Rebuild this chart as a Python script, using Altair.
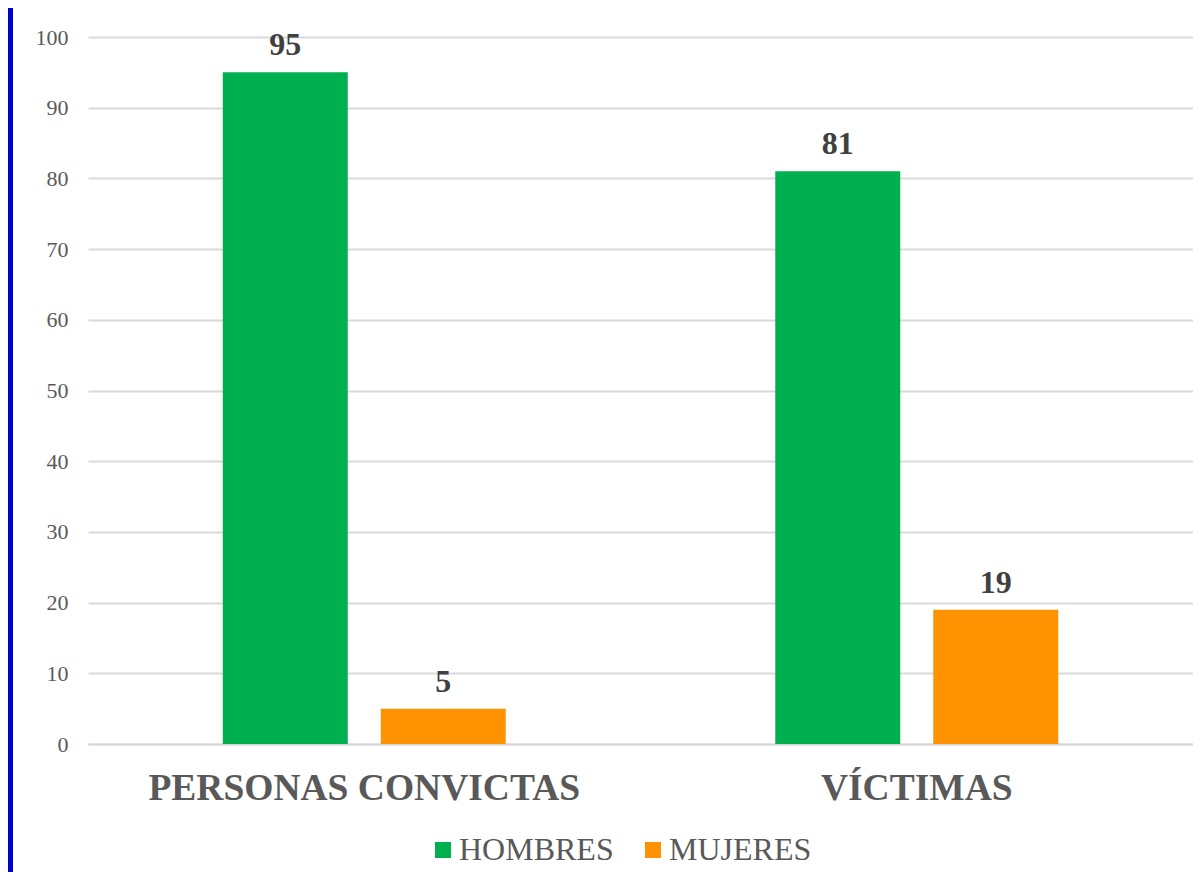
import altair as alt
import pandas as pd

categorias = ["PERSONAS CONVICTAS", "VÍCTIMAS"]
series = ["HOMBRES", "MUJERES"]
hombres = [95, 81]
mujeres = [5, 19]
colores = ["#00B050", "#FF9200"]

rows = []
for i, c in enumerate(categorias):
    rows.append({"cat": c, "sexo": "HOMBRES", "valor": hombres[i]})
    rows.append({"cat": c, "sexo": "MUJERES", "valor": mujeres[i]})
df = pd.DataFrame(rows)

FONT = "Liberation Serif"

base = alt.Chart(df)

x_enc = alt.X(
    "cat:N",
    sort=categorias,
    scale=alt.Scale(paddingInner=0, paddingOuter=0),
    axis=alt.Axis(
        title=None,
        labelAngle=0,
        labelFont=FONT,
        labelFontSize=37.5,
        labelFontWeight="bold",
        labelColor="#595959",
        labelPadding=25,
        labelLimit=0,
        ticks=False,
        tickSize=0,
        domainColor="#D9D9D9",
        domainWidth=2,
    ),
)
xoff_enc = alt.XOffset(
    "sexo:N", sort=series, scale=alt.Scale(paddingInner=0.209, paddingOuter=0.853)
)
y_enc = alt.Y(
    "valor:Q",
    scale=alt.Scale(domain=[0, 100], nice=False),
    axis=alt.Axis(
        values=list(range(0, 101, 10)),
        title=None,
        grid=True,
        gridColor="#D9D9D9",
        gridWidth=2,
        domain=False,
        ticks=False,
        tickSize=0,
        labelFont=FONT,
        labelFontSize=22,
        labelColor="#595959",
        labelPadding=20,
    ),
)

bars = base.mark_bar().encode(
    x=x_enc,
    xOffset=xoff_enc,
    y=y_enc,
    color=alt.Color(
        "sexo:N",
        sort=series,
        scale=alt.Scale(domain=series, range=colores),
        legend=alt.Legend(
            title=None,
            orient="none",
            direction="horizontal",
            legendX=339,
            legendY=797,
            symbolType="square",
            symbolSize=256,
            symbolStrokeWidth=0,
            labelFont=FONT,
            labelFontSize=32,
            labelColor="#595959",
            labelOffset=0,
            labelLimit=0,
            columnPadding=23,
            padding=0,
        ),
    ),
)

labels = base.mark_text(
    dy=-17,
    baseline="alphabetic",
    font=FONT,
    fontSize=32,
    fontWeight="bold",
    color="#404040",
).encode(
    x=alt.X("cat:N", sort=categorias),
    xOffset=alt.XOffset("sexo:N", sort=series),
    y=alt.Y("valor:Q"),
    text=alt.Text("valor:Q"),
)

frame = alt.Chart(alt.Data(values=[{}])).mark_rect(color="#0000CC").encode(
    x=alt.value(-80), x2=alt.value(-75), y=alt.value(-29), y2=alt.value(835)
)

chart = (
    alt.layer(bars, labels, frame)
    .properties(
        width=1105,
        height=707,
        autosize=alt.AutoSizeParams(type="none"),
        padding={"left": 80, "top": 29, "right": 0, "bottom": 128},
        background="white",
    )
    .configure_view(strokeWidth=0)
)

chart.save("out.html", embed_options={"renderer": "svg", "actions": False})
